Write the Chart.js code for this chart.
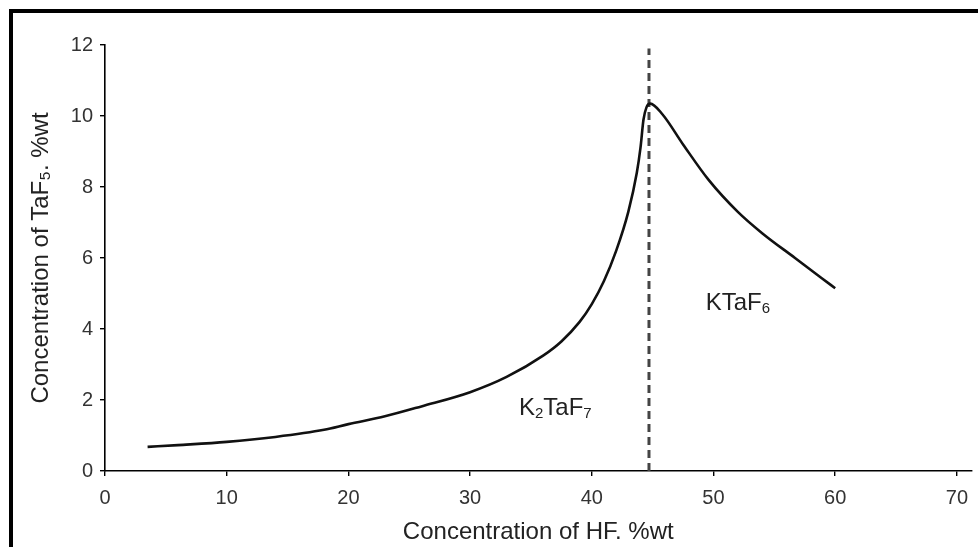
<!DOCTYPE html>
<html>
<head>
<meta charset="utf-8">
<script src="https://cdn.jsdelivr.net/npm/chart.js@4.4.1/dist/chart.umd.min.js"></script>
<style>
  html, body { margin: 0; padding: 0; background: #fff; }
  #wrap { width: 978px; height: 547px; position: relative; }
</style>
</head>
<body>
<div id="wrap"><canvas id="c" width="978" height="547"></canvas></div>
<script>
// ---- data ----
const hfConc  = [3.5, 6, 10, 14, 18, 20, 23, 26, 30, 33, 36, 37.5, 39, 40, 41, 42, 43, 43.7, 44.0, 44.25, 44.5, 44.8, 45.8, 47.5, 49.6, 52, 54, 56.7, 58.9, 60];
const tafConc = [0.68, 0.73, 0.82, 0.96, 1.16, 1.32, 1.54, 1.82, 2.22, 2.65, 3.25, 3.65, 4.2, 4.7, 5.35, 6.2, 7.3, 8.4, 9.1, 9.9, 10.25, 10.35, 10.05, 9.2, 8.2, 7.3, 6.7, 6.0, 5.43, 5.15];
const boundaryHF = 44.7;
const boundaryY = [0, 11.9];
const xTicks = [0, 10, 20, 30, 40, 50, 60, 70];
const yTicks = [0, 2, 4, 6, 8, 10, 12];
const phaseLabels = [
  { base: "K", sub1: "2", mid: "TaF", sub2: "7", x: 37.0, y: 1.83 },
  { base: "K", sub1: "",  mid: "TaF", sub2: "6", x: 52.0, y: 4.79 }
];
const xTitle = "Concentration of HF. %wt";
const yTitle = "Concentration of TaF\u2085. %wt";

const FONT = "'Liberation Sans', Arial, sans-serif";

const framePlugin = {
  id: 'frame',
  beforeDraw(chart) {
    const ctx = chart.ctx;
    ctx.save();
    ctx.fillStyle = '#fff';
    ctx.fillRect(0, 0, chart.width, chart.height);
    ctx.fillStyle = '#000';
    ctx.fillRect(9, 9, chart.width - 9, 4);
    ctx.fillRect(9, 9, 4, chart.height - 9);
    ctx.restore();
  },
  afterDatasetsDraw(chart) {
    const ctx = chart.ctx;
    const xs = chart.scales.x, ys = chart.scales.y;
    ctx.save();
    ctx.fillStyle = '#222';
    ctx.textBaseline = 'alphabetic';
    phaseLabels.forEach(l => {
      const big = "24px " + FONT, small = "15px " + FONT;
      ctx.font = big; const wK = ctx.measureText(l.base).width; const wM = ctx.measureText(l.mid).width;
      ctx.font = small; const w1 = l.sub1 ? ctx.measureText(l.sub1).width : 0; const w2 = ctx.measureText(l.sub2).width;
      const total = wK + w1 + wM + w2;
      let px = xs.getPixelForValue(l.x) - total / 2;
      const py = ys.getPixelForValue(l.y) + 9;
      ctx.font = big; ctx.fillText(l.base, px, py); px += wK;
      if (l.sub1) { ctx.font = small; ctx.fillText(l.sub1, px, py + 3); px += w1; }
      ctx.font = big; ctx.fillText(l.mid, px, py); px += wM;
      ctx.font = small; ctx.fillText(l.sub2, px, py + 3);
    });
    ctx.restore();
  }
};

new Chart(document.getElementById('c'), {
  type: 'line',
  data: {
    datasets: [
      {
        data: hfConc.map((x, i) => ({ x, y: tafConc[i] })),
        borderColor: '#111',
        borderWidth: 2.6,
        pointRadius: 0,
        cubicInterpolationMode: 'monotone',
        fill: false
      },
      {
        data: boundaryY.map(y => ({ x: boundaryHF, y })),
        borderColor: '#444',
        borderWidth: 3,
        borderDash: [8, 5],
        pointRadius: 0,
        fill: false
      }
    ]
  },
  options: {
    responsive: false,
    animation: false,
    events: [],
    layout: { padding: { left: 0, right: 0, top: 45, bottom: 0 } },
    plugins: { legend: { display: false }, tooltip: { enabled: false } },
    scales: {
      x: {
        type: 'linear',
        min: 0, max: 71.2,
        afterFit(s) { s.height = 76; },
        afterBuildTicks(s) { s.ticks = xTicks.map(v => ({ value: v })); },
        border: { display: true, color: '#000', width: 1.6 },
        grid: { display: true, drawOnChartArea: false, drawTicks: true, tickLength: 5, color: '#000', lineWidth: 1.4 },
        ticks: { color: '#333', font: { family: FONT, size: 20 }, padding: 10, maxRotation: 0 },
        title: { display: true, text: xTitle, color: '#222', font: { family: FONT, size: 24 }, padding: { top: 0, bottom: 0 } }
      },
      y: {
        type: 'linear',
        min: 0, max: 12,
        afterFit(s) { s.width = 105; },
        afterBuildTicks(s) { s.ticks = yTicks.map(v => ({ value: v })); },
        border: { display: true, color: '#000', width: 1.6 },
        grid: { display: true, drawOnChartArea: false, drawTicks: true, tickLength: 5, color: '#000', lineWidth: 1.4 },
        ticks: { color: '#333', font: { family: FONT, size: 20 }, padding: 7 },
        title: { display: true, text: yTitle, color: '#222', font: { family: FONT, size: 24 }, padding: { top: 27, bottom: 0 } }
      }
    }
  },
  plugins: [framePlugin]
});
</script>
</body>
</html>
